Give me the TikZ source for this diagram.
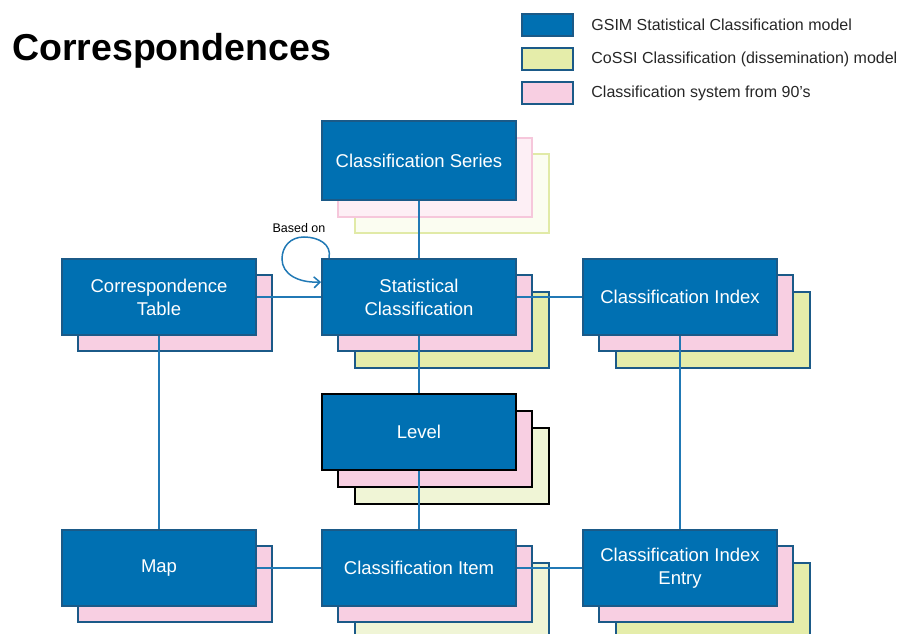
\documentclass[tikz,border=0pt]{standalone}
\usepackage{fontspec}
\setmainfont{Liberation Sans}
\usetikzlibrary{positioning}
\usetikzlibrary{arrows.meta}
\definecolor{gsimColor}{HTML}{0070B2}
\definecolor{edgeColor}{HTML}{1B5A88}
\definecolor{linkColor}{HTML}{2179B5}
\definecolor{oldColor}{HTML}{F8CFE2}
\definecolor{cossiColor}{HTML}{E5EDAA}
\definecolor{cossiPale}{HTML}{F0F5D6}
\definecolor{oldFade}{HTML}{FDEFF5}
\definecolor{oldFadeLine}{HTML}{F6C7DB}
\definecolor{cossiFade}{HTML}{FBFDF1}
\definecolor{cossiFadeLine}{HTML}{E1EAA7}

\begin{document}
\begin{tikzpicture}[
			x=1pt, y=-1pt,
			blk/.style={draw=edgeColor, line width=2pt, fill=gsimColor, text=white, minimum width=194pt, minimum height=76pt, inner sep=0pt, align=center, font=\fontsize{18.5}{23}\selectfont},
			oldbox/.style={blk, fill=oldColor},
			cossibox/.style={blk, fill=cossiColor},
			darkedge/.style={draw=black, line width=2.6pt},
			link/.style={draw=linkColor, line width=1.5pt},
			key/.style={draw=edgeColor, line width=2.4pt, minimum width=51pt, minimum height=22pt, inner sep=0pt},
			keytxt/.style={font=\fontsize{16}{18}\selectfont, text=black!85, inner sep=0pt},
			]
			\useasboundingbox (0,0) rectangle (898,634);
			\clip (0,0) rectangle (898,634);
			% title and legend
			\node[anchor=base west, inner sep=0pt, font=\fontsize{37.5}{42}\selectfont\bfseries] (title) at (12,61) {Correspondences};
			\node[key, fill=gsimColor] (k1) at (547.5,25) {};
			\node[key, fill=cossiColor] (k2) at (547.5,59) {};
			\node[key, fill=oldColor] (k3) at (547.5,93) {};
			\node[keytxt, right=17pt of k1] (t1) {GSIM Statistical Classification model};
			\node[keytxt, right=17pt of k2] (t2) {CoSSI Classification (dissemination) model};
			\node[keytxt, right=17pt of k3] (t3) {Classification system from 90's};
			% stacks
			\node[cossibox, fill=cossiFade, draw=cossiFadeLine, minimum height=79pt] (series-c) at (452,193.5) {};
			\node[oldbox, fill=oldFade, draw=oldFadeLine, minimum height=79pt] (series-o) at (435,177.5) {};
			\node[blk, minimum height=79pt] (series) at (419,160.5) {Classification Series};
			\node[cossibox] (stat-c) at (452,330) {};
			\node[oldbox] (stat-o) at (435,313) {};
			\node[blk] (stat) at (419,297) {Statistical\\Classification};
			\node[oldbox] (corr-o) at (175,313) {};
			\node[blk] (corr) at (159,297) {Correspondence\\Table};
			\node[cossibox] (index-c) at (713,330) {};
			\node[oldbox] (index-o) at (696,313) {};
			\node[blk] (index) at (680,297) {Classification Index};
			\node[cossibox, darkedge, fill=cossiPale] (level-c) at (452,466) {};
			\node[oldbox, darkedge] (level-o) at (435,449) {};
			\node[blk, darkedge] (level) at (419,432) {Level};
			\node[oldbox] (map-o) at (175,584) {};
			\node[blk] (map) at (159,568) {Map};
			\node[cossibox, fill=cossiPale] (item-c) at (452,601) {};
			\node[oldbox] (item-o) at (435,584) {};
			\node[blk] (item) at (419,568) {Classification Item};
			\node[cossibox] (entry-c) at (713,601) {};
			\node[oldbox] (entry-o) at (696,584) {};
			\node[blk] (entry) at (680,568) {Classification Index\\Entry};
			% links
			\foreach \i/\j in {series/stat, stat/level, level/item, corr/stat, stat/index, corr/map, index/entry, map/item, item/entry}
				\draw[link] (\i) -- (\j);
			\draw[link, -{Straight Barb[length=6pt, width=11pt]}] ([xshift=8pt]stat.north west) .. controls (332,244) and (318,237) .. (304,237) .. controls (290,237) and (282,247) .. (282,259) .. controls (282,274) and (298,283) .. ([yshift=15pt]stat.west);
			\node[font=\fontsize{12.5}{14}\selectfont, inner sep=0pt] (basedon) at (299,228) {Based on};
		\end{tikzpicture}
\end{document}
